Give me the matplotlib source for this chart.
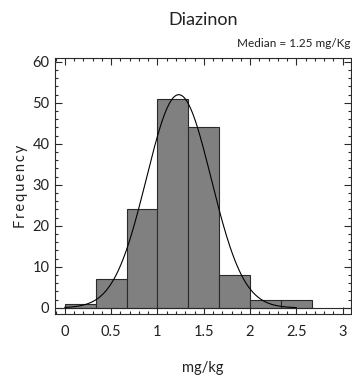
import numpy as np
import matplotlib.pyplot as plt
from matplotlib.ticker import MultipleLocator

# histogram of diazinon residues, bins of 1/3 mg/kg
bin_edges = [0, 1/3, 2/3, 1, 4/3, 5/3, 2, 7/3, 8/3]
counts = [1, 7, 24, 51, 44, 8, 2, 2]
title = "Diazinon"
median_note = "Median = 1.25 mg/Kg"

# normal curve overlaid on the histogram
fit_mean = 1.23
fit_sd = 0.35
fit_peak = 52
fit_range = (0, 2.5)

plt.rcParams['font.family'] = ['Lato', 'DejaVu Sans']

fig = plt.figure(figsize=(3.52, 3.79), dpi=100)
ax = fig.add_axes([0.156, 0.1715, 0.841, 0.675])

left = np.array(bin_edges[:-1])
width = np.diff(bin_edges)
ax.bar(left, counts, width=width, align='edge', color='#808080',
       edgecolor='#2a2a2a', linewidth=0.8, zorder=2)
ax.axhline(0, color='#2a2a2a', linewidth=0.8, zorder=3)

xs = np.linspace(fit_range[0], fit_range[1], 200)
ax.plot(xs, fit_peak * np.exp(-(xs - fit_mean) ** 2 / (2 * fit_sd ** 2)),
        color='black', linewidth=0.8, zorder=4)

ax.set_xlim(-0.108, 3.09)
ax.set_ylim(-1.5, 60.9)
ax.xaxis.set_major_locator(MultipleLocator(0.5))
ax.xaxis.set_minor_locator(MultipleLocator(0.1))
ax.yaxis.set_major_locator(MultipleLocator(10))
ax.yaxis.set_minor_locator(MultipleLocator(2))
ax.xaxis.set_major_formatter(lambda v, p: f"{v:g}")
ax.tick_params(which='both', direction='in', top=True, right=True,
               labelsize=10.5, width=0.8, color='#2a2a2a',
               labelcolor='#222222')
ax.tick_params(which='major', length=5)
ax.tick_params(which='minor', length=2.5)
ax.tick_params(axis='x', pad=8)
ax.tick_params(axis='y', pad=4)
for s in ax.spines.values():
    s.set_linewidth(0.8)
    s.set_color('#2a2a2a')

fig.text(0.577, 0.947, title, ha='center', va='center', fontsize=13,
         color='#222222')
fig.text(0.997, 0.886, median_note, ha='right', va='center', fontsize=8.5,
         color='#222222')
ax.set_ylabel("\u2009".join("Frequency"), fontsize=10.5, labelpad=3,
              color='#222222')
ax.set_xlabel("mg/kg", fontsize=10.5, labelpad=16, color='#222222')

fig.savefig("out.png", dpi=100)
